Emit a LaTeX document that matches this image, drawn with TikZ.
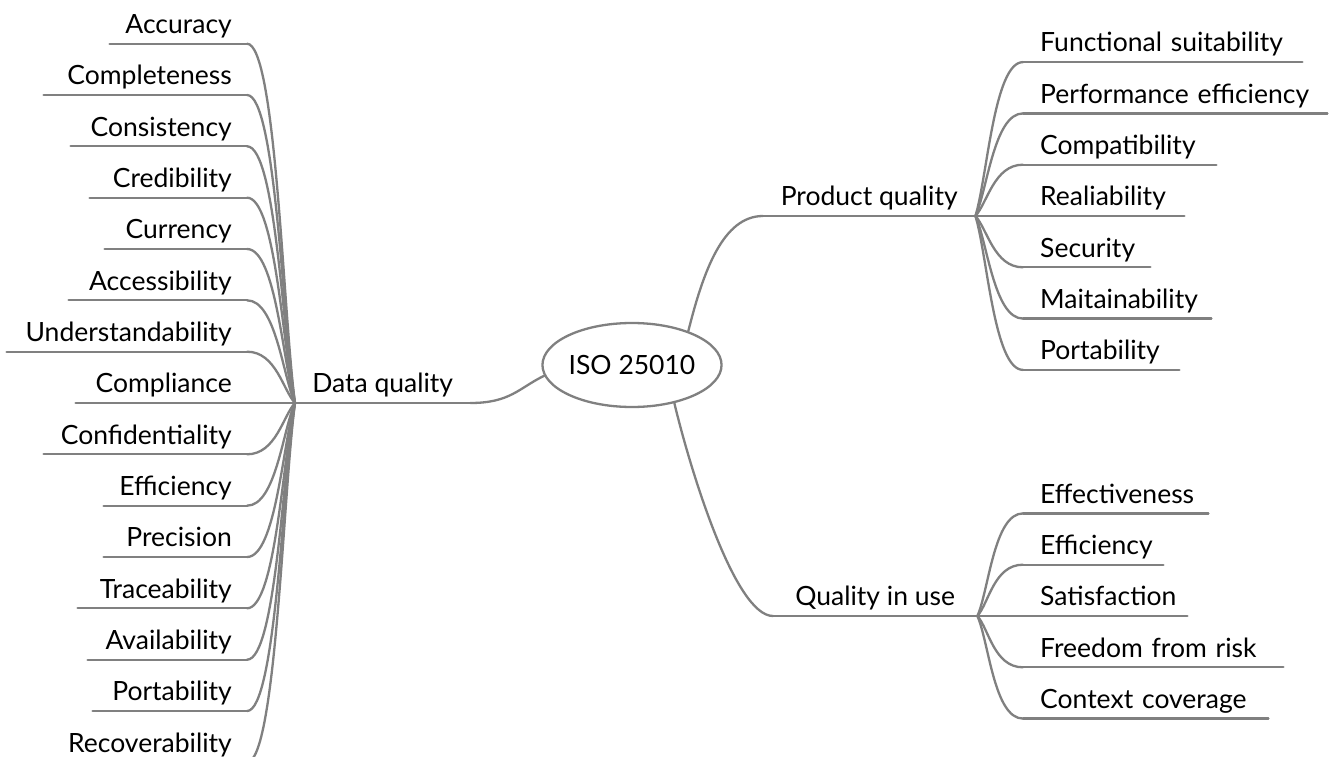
\documentclass[tikz,border=0pt]{standalone}
\usepackage{fontspec}
\setmainfont{Lato}
\usetikzlibrary{shapes.geometric,calc}
\definecolor{branch}{HTML}{808080}
\tikzset{
  link/.style={draw=branch, line width=2.3pt, line cap=round},
  topic/.style={font=\fontsize{26.5}{31}\selectfont, inner ysep=0pt,
    text height=20pt, text depth=10pt},
  lefttopic/.style={topic, anchor=south east, inner xsep=15pt, align=right},
  righttopic/.style={topic, anchor=south west, inner xsep=17pt, align=left},
  maintopic/.style={topic, anchor=south west, inner xsep=0pt, minimum width=#1},
  root/.style={ellipse, draw=branch, line width=2.3pt, minimum width=167pt,
    minimum height=84pt, inner sep=0pt, font=\fontsize{26.5}{31}\selectfont,
    text height=19pt, text depth=0pt}
}
\begin{document}
\begin{tikzpicture}[x=1pt, y=-1pt]
  \useasboundingbox (0,0) rectangle (1331,757);
  \fill[white] (0,0) rectangle (1331,757);
  \clip (0,0) rectangle (1331,757);

  % central topic
  \node[root] (iso) at (632,365) {ISO 25010};

  % main topics
  \node[maintopic=175pt] (dq)  at (295,403) {Data quality};
  \node[maintopic=212pt] (pq)  at (763,216) {Product quality};
  \node[maintopic=204pt] (qiu) at (773,616) {Quality in use};
  \foreach \m in {dq,pq,qiu}
    \draw[link] (\m.south west) -- (\m.south east);

  \draw[link] (iso.187) .. controls +(-25,12) and +(40,0) .. (dq.south east);
  \draw[link] (iso.31)  .. controls +(15,-60) and +(-40,0) .. (pq.south west);
  \draw[link] (iso.318) .. controls +(16,67)  and +(-38,0) .. (qiu.south west);

  % data quality characteristics
  \foreach \t/\l/\y [count=\i] in {
      Accuracy/110/43.7, Completeness/44/95, Consistency/71/146.3,
      Credibility/90/197.7, Currency/105/249, Accessibility/69/300.3,
      Understandability/7/351.7, Compliance/76/403, Confidentiality/44/454.3,
      Efficiency/104/505.7, Precision/104/557, Traceability/78/608.3,
      Availability/88/659.7, Portability/93/711, Recoverability/47/762.3} {
    \pgfmathsetmacro\w{247-\l-30}
    \node[lefttopic, text width=\w pt] (d\i) at (247,\y) {\t};
    \draw[link] (d\i.south west) -- (d\i.south east);
    \draw[link] (d\i.south east) .. controls +(29,0)
      and ($(dq.south west)!0.25!(d\i.south east)$) .. (dq.south west);
  }

  % product quality characteristics
  \foreach \t/\r/\y [count=\i] in {
      Functional suitability/1302/62.1, Performance efficiency/1327/113.4,
      Compatibility/1216/164.7, Realiability/1184/216, Security/1150/267.3,
      Maitainability/1211/318.6, Portability/1179/369.9} {
    \pgfmathsetmacro\w{\r-1023-34}
    \node[righttopic, text width=\w pt] (p\i) at (1023,\y) {\t};
    \draw[link] (p\i.south west) -- (p\i.south east);
    \draw[link] (p\i.south west) .. controls +(-29,0)
      and ($(pq.south east)!0.25!(p\i.south west)$) .. (pq.south east);
  }

  % quality in use characteristics
  \foreach \t/\r/\y [count=\i] in {
      Effectiveness/1208/513.4, Efficiency/1163/564.7, Satisfaction/1187/616,
      Freedom from risk/1283/667.3, Context coverage/1268/718.6} {
    \pgfmathsetmacro\w{\r-1023-34}
    \node[righttopic, text width=\w pt] (q\i) at (1023,\y) {\t};
    \draw[link] (q\i.south west) -- (q\i.south east);
    \draw[link] (q\i.south west) .. controls +(-29,0)
      and ($(qiu.south east)!0.25!(q\i.south west)$) .. (qiu.south east);
  }
\end{tikzpicture}
\end{document}
